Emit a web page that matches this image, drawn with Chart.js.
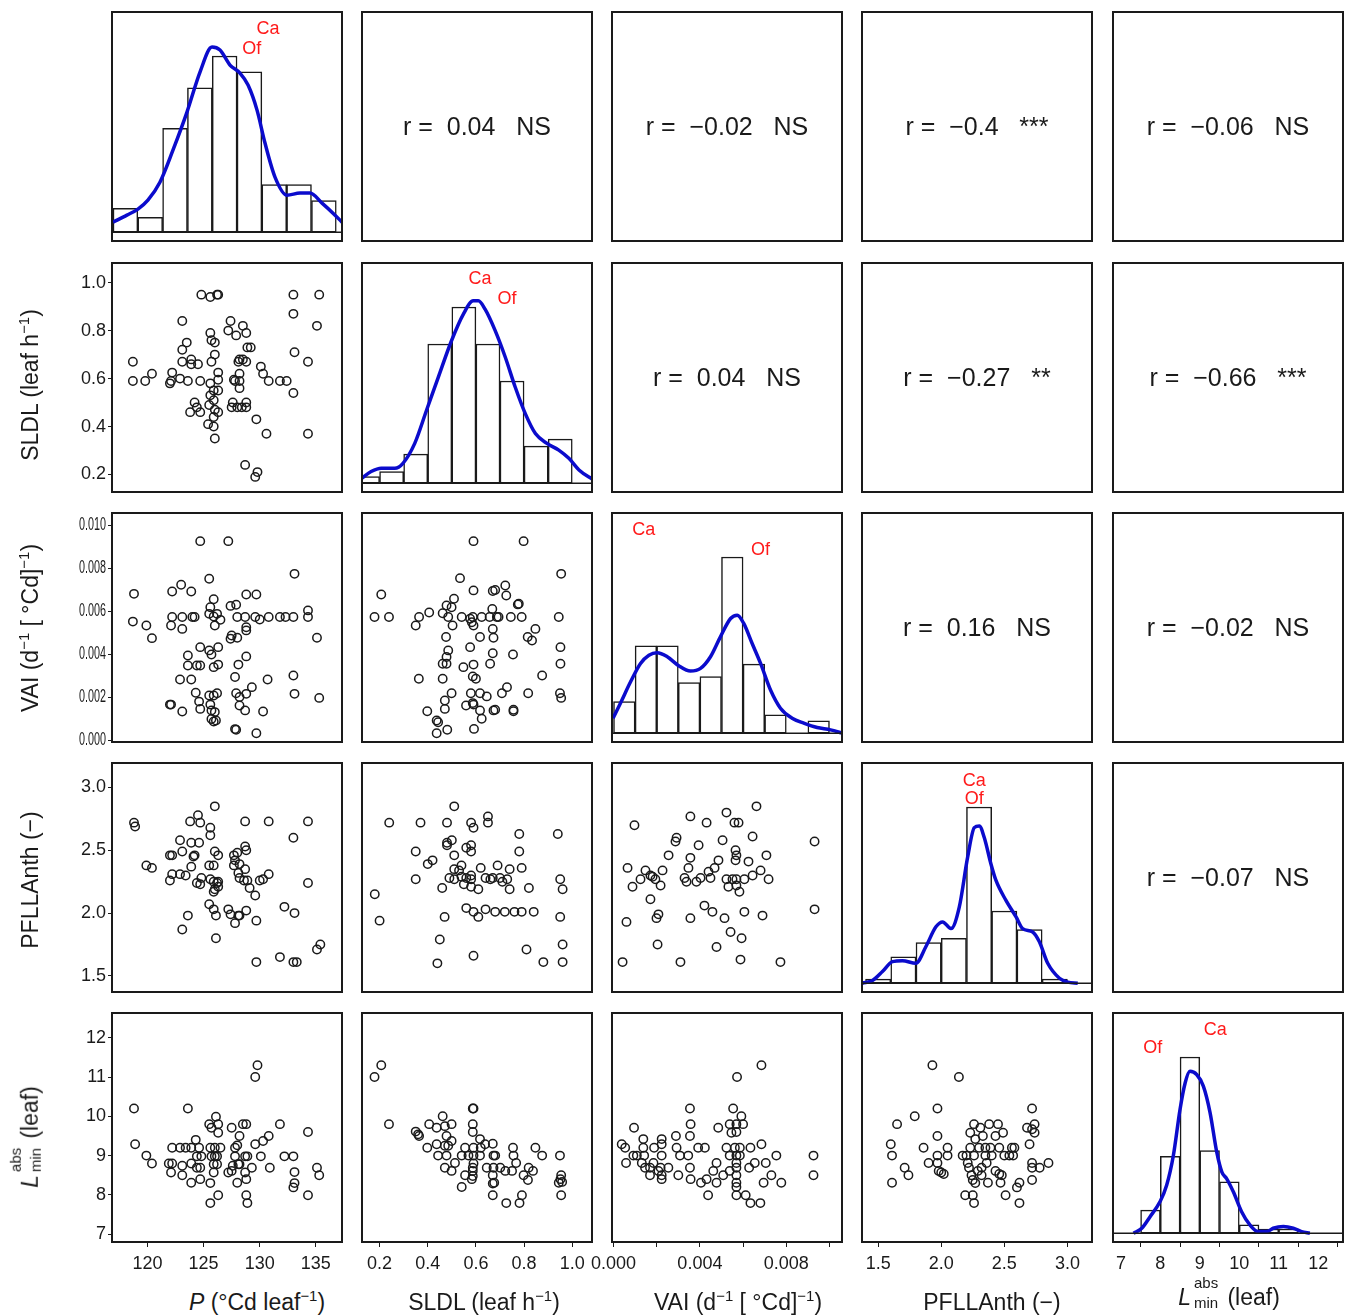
<!DOCTYPE html>
<html>
<head>
<meta charset="utf-8">
<script src="https://cdn.jsdelivr.net/npm/chart.js@4.4.1/dist/chart.umd.min.js"></script>
<style>
  body { margin: 0; background: #fff; font-family: "Liberation Sans", Arial, sans-serif; color: #1a1a1a; }
  #fig { position: relative; width: 1348px; height: 1315px; overflow: hidden; }
  .cell { position: absolute; }
  .rbox { position: absolute; box-sizing: border-box; border: 2px solid #1a1a1a; display: flex;
          align-items: center; justify-content: center; font-size: 25px; white-space: pre; }
  .ttl { position: absolute; font-size: 23px; white-space: nowrap; line-height: 1.15; }
  .ttl sup { font-size: 0.65em; vertical-align: 0.6em; line-height: 0; }
  .ss { position: relative; display: inline-block; width: 30px; height: 0; }
  .ss span { position: absolute; left: 3px; font-size: 15px; line-height: 15px; }
  .ss .sa { bottom: 15px; }
  .ss .sb { bottom: -5px; }
</style>
</head>
<body>
<div id="fig"></div>
<script>
// ---- tick values ----
const pTicks = [120, 125, 130, 135];
const sldlTicks = [0.2, 0.4, 0.6, 0.8, 1.0];
const vaiTicks = [0, 0.002, 0.004, 0.006, 0.008, 0.010];
const vaiBottomLabels = [0, 0.004, 0.008];
const pfTicks = [1.5, 2.0, 2.5, 3.0];
const lminTicks = [7, 8, 9, 10, 11, 12];

// ---- correlations (upper panels) ----
const corrPairs = [[0, 1], [0, 2], [0, 3], [0, 4], [1, 2], [1, 3], [1, 4], [2, 3], [2, 4], [3, 4]];
const corrValues = [0.04, -0.02, -0.4, -0.06, 0.04, -0.27, -0.66, 0.16, -0.02, -0.07];
const corrSig = ['NS', 'NS', '***', 'NS', 'NS', '**', '***', 'NS', 'NS', 'NS'];

// ---- histograms (bin edges + relative heights) ----
const histPEdges = [116.93, 119.14, 121.35, 123.56, 125.77, 127.98, 130.19, 132.40, 134.61, 136.82];
const histPHeights = [0.136, 0.085, 0.59, 0.82, 1.0, 0.91, 0.27, 0.27, 0.18];
const histSldlEdges = [0.1, 0.2, 0.3, 0.4, 0.5, 0.6, 0.7, 0.8, 0.9, 1.0];
const histSldlHeights = [0.038, 0.066, 0.165, 0.79, 1.0, 0.79, 0.58, 0.21, 0.25];
const histVaiEdges = [0, 0.001, 0.002, 0.003, 0.004, 0.005, 0.006, 0.007, 0.008, 0.009, 0.010];
const histVaiHeights = [0.179, 0.496, 0.496, 0.287, 0.321, 1.0, 0.392, 0.104, 0, 0.07];
const histPfEdges = [1.4, 1.6, 1.8, 2.0, 2.2, 2.4, 2.6, 2.8, 3.0];
const histPfHeights = [0.023, 0.150, 0.231, 0.254, 1.0, 0.41, 0.305, 0.023];
const histLminEdges = [7.5, 8.0, 8.5, 9.0, 9.5, 10.0, 10.5, 11.0, 11.5];
const histLminHeights = [0.131, 0.437, 1.0, 0.469, 0.291, 0.047, 0.024, 0.024];

// ---- density curves ----
const densP = [[116.93,0.057],[118.17,0.097],[119.15,0.131],[120.04,0.182],[121.11,0.284],[122.27,0.466],[123.52,0.682],[124.68,0.909],[125.75,1.051],[126.46,1.034],[127.35,0.949],[128.24,0.903],[128.96,0.835],[129.76,0.693],[130.47,0.506],[131.36,0.313],[132.43,0.210],[133.59,0.222],[134.48,0.222],[135.55,0.165],[136.53,0.108],[137.33,0.057]];
const densSldl = [[0.126,0.028],[0.165,0.066],[0.207,0.085],[0.263,0.085],[0.297,0.113],[0.346,0.226],[0.395,0.414],[0.444,0.602],[0.499,0.810],[0.548,0.960],[0.589,1.035],[0.610,1.035],[0.638,0.988],[0.680,0.866],[0.722,0.715],[0.763,0.546],[0.805,0.395],[0.847,0.282],[0.895,0.226],[0.944,0.188],[0.986,0.141],[1.028,0.075],[1.087,0.019]];
const densVai = [[-0.00002,0.085],[0.00032,0.170],[0.00079,0.292],[0.00125,0.396],[0.00164,0.443],[0.00202,0.457],[0.00249,0.434],[0.00302,0.383],[0.00356,0.353],[0.00403,0.368],[0.00449,0.434],[0.00495,0.547],[0.00542,0.651],[0.00573,0.670],[0.00603,0.623],[0.00642,0.509],[0.00681,0.396],[0.00727,0.245],[0.00773,0.142],[0.00827,0.085],[0.00881,0.057],[0.00943,0.032],[0.01005,0.019],[0.01059,0.0]];
const densPf = [[1.375,0.0],[1.455,0.015],[1.534,0.066],[1.613,0.122],[1.693,0.128],[1.799,0.113],[1.878,0.207],[1.958,0.320],[2.011,0.348],[2.077,0.310],[2.143,0.432],[2.209,0.714],[2.262,0.883],[2.302,0.893],[2.341,0.827],[2.394,0.677],[2.434,0.583],[2.513,0.470],[2.593,0.376],[2.645,0.310],[2.725,0.291],[2.778,0.235],[2.844,0.113],[2.937,0.028],[3.003,0.006],[3.082,0.0]];
const densLmin = [[7.32,0.0],[7.53,0.028],[7.74,0.094],[7.99,0.178],[8.16,0.272],[8.33,0.441],[8.50,0.704],[8.63,0.854],[8.75,0.919],[8.92,0.901],[9.09,0.835],[9.26,0.685],[9.43,0.460],[9.56,0.347],[9.68,0.310],[9.85,0.235],[10.06,0.122],[10.27,0.047],[10.48,0.009],[10.70,0.009],[10.86,0.028],[11.12,0.038],[11.37,0.028],[11.58,0.009],[11.79,0.0]];

// ---- scatter panels [x, y] ----
const pVsSldl = [[118.7,0.67],[118.7,0.59],[119.8,0.59],[120.4,0.62],[122.0,0.58],[122.1,0.59],[122.2,0.625],[122.9,0.60],[123.1,0.84],[123.1,0.72],[123.1,0.67],[123.5,0.75],[123.6,0.59],[123.9,0.68],[123.9,0.66],[124.5,0.66],[123.8,0.46],[124.2,0.50],[124.4,0.48],[124.7,0.59],[124.7,0.46],[124.8,0.95],[125.6,0.79],[125.7,0.67],[125.6,0.94],[126.2,0.95],[126.3,0.95],[125.7,0.76],[126.0,0.75],[126.0,0.70],[125.6,0.58],[125.6,0.53],[125.9,0.55],[126.3,0.625],[126.3,0.595],[126.3,0.55],[125.5,0.49],[125.4,0.41],[125.9,0.40],[126.0,0.35],[125.9,0.44],[126.0,0.47],[126.3,0.46],[125.9,0.51],[127.2,0.80],[127.4,0.84],[127.9,0.78],[128.5,0.82],[128.8,0.79],[128.1,0.67],[128.2,0.68],[128.5,0.68],[128.8,0.67],[128.9,0.73],[129.2,0.73],[127.7,0.595],[127.8,0.59],[128.2,0.59],[128.2,0.62],[128.2,0.56],[127.5,0.48],[127.6,0.50],[128.0,0.48],[128.4,0.48],[128.8,0.48],[128.8,0.50],[129.7,0.43],[130.6,0.37],[128.7,0.24],[129.6,0.19],[129.8,0.21],[130.1,0.65],[130.3,0.62],[130.8,0.59],[131.8,0.59],[132.4,0.59],[133.0,0.95],[133.0,0.87],[133.1,0.71],[133.0,0.54],[134.3,0.67],[134.3,0.37],[135.1,0.82],[135.3,0.95]];
const pVsVai = [[118.8,0.00682],[118.7,0.00553],[119.9,0.00535],[120.4,0.00476],[122.2,0.00693],[123.0,0.00724],[123.9,0.00693],[122.2,0.00574],[122.1,0.00535],[123.1,0.00574],[123.1,0.00519],[124.0,0.00574],[124.2,0.00574],[123.6,0.00395],[123.6,0.00349],[122.9,0.00284],[123.9,0.00284],[124.4,0.00349],[124.7,0.00349],[124.7,0.00434],[122.0,0.00167],[122.1,0.00167],[123.1,0.00135],[124.3,0.00222],[124.6,0.00181],[124.7,0.00147],[125.5,0.00752],[125.6,0.00620],[125.9,0.00657],[125.5,0.00589],[125.9,0.00577],[126.0,0.00535],[126.5,0.00561],[126.2,0.00589],[125.5,0.00419],[125.7,0.00400],[126.3,0.00434],[125.9,0.00341],[126.3,0.00353],[125.5,0.00209],[125.9,0.00209],[126.2,0.00220],[125.6,0.00167],[125.7,0.00140],[126.0,0.00132],[125.9,0.00088],[126.1,0.00093],[125.7,0.00100],[124.7,0.00927],[127.2,0.00927],[127.4,0.00626],[127.9,0.00631],[127.4,0.00473],[127.5,0.00488],[128.0,0.00478],[128.8,0.00679],[129.7,0.00679],[128.0,0.00574],[128.7,0.00574],[128.8,0.00527],[128.8,0.00512],[129.6,0.00574],[130.0,0.00563],[130.8,0.00574],[128.8,0.00391],[128.1,0.00353],[127.8,0.00295],[127.9,0.00220],[128.2,0.00202],[128.8,0.00217],[129.3,0.00248],[128.2,0.00163],[128.7,0.00140],[127.8,0.00053],[127.9,0.00050],[129.7,0.00034],[130.3,0.00135],[130.7,0.00284],[131.8,0.00574],[132.3,0.00574],[133.0,0.00574],[133.0,0.00302],[133.1,0.00217],[133.1,0.00775],[134.3,0.00605],[134.3,0.00574],[135.1,0.00478],[135.3,0.00198]];
const pVsPf = [[118.8,2.72],[118.9,2.69],[119.9,2.38],[120.4,2.36],[122.0,2.46],[122.2,2.46],[122.9,2.58],[123.1,2.49],[122.2,2.31],[122.0,2.26],[122.9,2.31],[123.4,2.30],[123.9,2.56],[124.6,2.56],[123.8,2.73],[124.5,2.78],[124.7,2.72],[124.1,2.45],[124.2,2.46],[123.9,2.37],[124.4,2.24],[124.7,2.23],[124.8,2.28],[123.1,1.87],[123.6,1.98],[125.6,2.68],[125.6,2.62],[126.0,2.85],[125.5,2.38],[125.9,2.38],[126.0,2.49],[126.3,2.46],[125.6,2.27],[125.9,2.25],[126.2,2.24],[126.3,2.21],[126.0,2.19],[125.9,2.17],[126.3,2.25],[125.5,2.07],[125.9,2.03],[126.1,1.98],[126.1,1.80],[127.2,2.03],[127.4,1.99],[127.8,1.92],[128.1,1.98],[128.2,1.98],[128.8,2.02],[127.7,2.46],[127.8,2.42],[128.0,2.48],[128.2,2.39],[128.1,2.32],[127.7,2.38],[128.7,2.53],[128.8,2.50],[128.7,2.35],[128.2,2.28],[128.6,2.26],[128.9,2.26],[129.1,2.20],[129.6,2.14],[128.7,2.73],[129.7,1.94],[129.7,1.61],[130.8,2.73],[130.0,2.26],[130.3,2.27],[130.8,2.31],[131.8,1.65],[132.2,2.05],[133.0,2.60],[133.1,2.00],[133.0,1.61],[133.3,1.61],[134.3,2.73],[134.3,2.24],[135.1,1.71],[135.4,1.75]];
const pVsLmin = [[118.8,10.2],[118.9,9.29],[119.9,9.0],[120.4,8.8],[121.9,8.8],[122.2,8.8],[122.1,8.57],[122.2,9.2],[122.9,9.2],[123.4,9.2],[123.9,9.2],[123.1,8.74],[123.1,8.5],[123.9,8.8],[123.9,8.31],[123.6,10.2],[124.3,9.4],[124.6,9.2],[124.4,8.69],[124.7,8.69],[124.7,8.4],[124.4,8.98],[124.8,8.98],[125.5,9.8],[125.7,9.71],[126.1,9.99],[126.3,9.8],[126.3,9.58],[125.6,9.2],[126.0,9.2],[126.5,9.2],[125.7,8.98],[126.0,8.98],[126.2,8.98],[125.9,8.78],[126.2,8.78],[125.9,8.57],[125.6,8.3],[125.6,7.79],[126.3,7.99],[127.5,9.71],[127.2,8.57],[127.5,8.61],[127.6,8.74],[127.8,9.2],[128.0,9.26],[128.2,9.5],[127.8,8.98],[128.1,8.78],[128.2,8.78],[128.0,8.31],[128.5,9.8],[128.8,9.8],[128.7,8.98],[128.9,8.98],[128.7,8.57],[128.8,8.4],[128.8,7.99],[128.9,7.79],[129.3,8.69],[129.6,9.29],[129.6,11.0],[129.8,11.3],[130.1,8.98],[130.3,9.37],[130.8,9.5],[130.9,8.69],[131.8,9.8],[132.2,8.98],[133.0,8.98],[133.1,8.58],[133.1,8.3],[133.0,8.19],[134.3,9.6],[134.3,7.99],[135.1,8.69],[135.3,8.5]];
const sldlVsVai = [[0.179,0.00574],[0.239,0.00574],[0.207,0.00679],[0.350,0.00535],[0.364,0.00574],[0.406,0.00595],[0.363,0.00287],[0.398,0.00136],[0.437,0.00093],[0.443,0.00085],[0.437,0.00034],[0.481,0.00050],[0.462,0.00592],[0.478,0.00628],[0.499,0.00620],[0.509,0.00659],[0.485,0.00574],[0.503,0.00535],[0.476,0.00481],[0.485,0.00419],[0.478,0.00388],[0.462,0.00357],[0.478,0.00357],[0.462,0.00287],[0.499,0.00220],[0.471,0.00186],[0.471,0.00147],[0.534,0.00755],[0.541,0.00574],[0.576,0.00566],[0.587,0.00574],[0.583,0.00550],[0.590,0.00535],[0.590,0.00927],[0.590,0.00698],[0.624,0.00574],[0.617,0.00481],[0.576,0.00434],[0.548,0.00341],[0.590,0.00353],[0.587,0.00298],[0.600,0.00287],[0.579,0.00220],[0.617,0.00220],[0.587,0.00174],[0.590,0.00167],[0.559,0.00163],[0.617,0.00140],[0.624,0.00101],[0.592,0.00054],[0.645,0.00205],[0.657,0.00574],[0.668,0.00612],[0.670,0.00695],[0.680,0.00700],[0.670,0.00519],[0.673,0.00478],[0.670,0.00406],[0.659,0.00357],[0.673,0.00140],[0.680,0.00143],[0.687,0.00574],[0.708,0.00220],[0.694,0.00574],[0.726,0.00674],[0.722,0.00721],[0.729,0.00248],[0.745,0.00574],[0.754,0.00400],[0.756,0.00136],[0.756,0.00143],[0.774,0.00633],[0.778,0.00636],[0.790,0.00574],[0.798,0.00927],[0.815,0.00481],[0.817,0.00220],[0.833,0.00465],[0.847,0.00519],[0.875,0.00302],[0.944,0.00574],[0.954,0.00775],[0.951,0.00434],[0.951,0.00357],[0.949,0.00220],[0.954,0.00198]];
const sldlVsPf = [[0.18,2.15],[0.20,1.94],[0.24,2.72],[0.35,2.49],[0.37,2.72],[0.40,2.39],[0.42,2.42],[0.44,1.60],[0.46,2.20],[0.45,1.79],[0.47,1.97],[0.48,2.72],[0.48,2.56],[0.49,2.28],[0.48,2.54],[0.50,2.58],[0.51,2.85],[0.51,2.46],[0.53,2.34],[0.54,2.38],[0.55,2.23],[0.56,2.04],[0.56,2.28],[0.58,2.72],[0.58,2.54],[0.58,2.49],[0.58,2.30],[0.58,2.27],[0.58,2.21],[0.59,2.68],[0.59,1.66],[0.59,2.01],[0.61,1.97],[0.62,2.36],[0.64,2.28],[0.64,2.03],[0.65,2.77],[0.65,2.72],[0.66,2.27],[0.67,2.28],[0.68,2.01],[0.69,2.38],[0.71,2.25],[0.72,2.01],[0.73,2.27],[0.74,2.19],[0.76,2.01],[0.78,2.63],[0.78,2.49],[0.79,2.01],[0.79,2.36],[0.81,1.71],[0.82,2.20],[0.84,2.01],[0.88,1.61],[0.94,2.63],[0.95,2.27],[0.96,2.19],[0.95,1.97],[0.96,1.75],[0.96,1.61],[0.51,2.27],[0.54,2.29],[0.61,2.19],[0.56,2.52],[0.70,2.28],[0.74,2.35],[0.35,2.27],[0.51,2.35]];
const sldlVsLmin = [[0.179,11.0],[0.207,11.3],[0.239,9.8],[0.350,9.61],[0.360,9.54],[0.364,9.5],[0.398,9.2],[0.406,9.8],[0.437,9.71],[0.443,9.0],[0.462,10.0],[0.471,9.75],[0.478,9.5],[0.499,9.8],[0.471,9.25],[0.485,9.25],[0.499,9.37],[0.437,9.29],[0.471,8.69],[0.478,9.0],[0.499,8.61],[0.513,8.81],[0.541,9.0],[0.555,9.2],[0.541,8.2],[0.555,8.5],[0.569,9.0],[0.587,10.2],[0.590,10.2],[0.587,9.8],[0.587,9.6],[0.590,9.2],[0.590,9.0],[0.590,8.8],[0.587,8.69],[0.587,8.61],[0.587,8.48],[0.583,8.4],[0.617,9.42],[0.620,9.2],[0.617,9.0],[0.638,9.29],[0.645,8.69],[0.670,9.3],[0.673,9.0],[0.680,9.0],[0.673,8.69],[0.670,8.5],[0.670,8.29],[0.676,8.31],[0.670,7.99],[0.701,8.69],[0.722,8.61],[0.726,7.79],[0.750,8.61],[0.754,9.2],[0.756,9.0],[0.767,8.81],[0.781,7.79],[0.791,7.99],[0.798,8.5],[0.819,8.69],[0.816,8.38],[0.837,8.61],[0.847,9.2],[0.875,9.0],[0.949,9.0],[0.954,8.5],[0.951,8.4],[0.944,8.31],[0.954,7.99],[0.958,8.33]];
const vaiVsPf = [[0.00042,1.61],[0.00060,1.93],[0.00097,2.70],[0.00065,2.36],[0.00088,2.21],[0.00125,2.27],[0.00148,2.34],[0.00171,2.30],[0.00194,2.27],[0.00181,2.29],[0.00199,1.96],[0.00208,1.99],[0.00204,1.75],[0.00227,2.34],[0.00218,2.22],[0.00255,2.46],[0.00287,2.57],[0.00292,2.60],[0.00310,1.61],[0.00329,2.28],[0.00347,2.36],[0.00356,2.44],[0.00356,1.96],[0.00356,2.77],[0.00384,2.25],[0.00394,2.54],[0.00421,2.06],[0.00431,2.72],[0.00449,2.28],[0.00458,2.01],[0.00477,1.73],[0.00486,2.42],[0.00505,2.58],[0.00514,1.96],[0.00523,2.80],[0.00532,2.21],[0.00542,1.85],[0.00551,2.27],[0.00560,2.72],[0.00565,2.50],[0.00565,2.42],[0.00569,2.46],[0.00569,2.27],[0.00569,2.22],[0.00579,2.72],[0.00583,2.17],[0.00588,1.63],[0.00593,1.80],[0.00606,2.01],[0.00625,2.41],[0.00644,2.61],[0.00662,2.85],[0.00681,2.34],[0.00690,1.98],[0.00708,2.46],[0.00718,2.27],[0.00773,1.61],[0.00931,2.57],[0.00931,2.03],[0.00403,2.28],[0.00468,2.36],[0.00171,2.11],[0.00338,2.25],[0.00440,2.33],[0.00523,2.27],[0.00606,2.27],[0.00644,2.30]];
const vaiVsLmin = [[0.00038,9.29],[0.00054,9.2],[0.00058,8.81],[0.00092,9.0],[0.00095,9.71],[0.00108,9.0],[0.00138,9.42],[0.00138,9.2],[0.00142,9.0],[0.00131,8.81],[0.00146,8.69],[0.00169,8.69],[0.00169,8.5],[0.00188,9.2],[0.00185,8.81],[0.00208,8.61],[0.00218,8.69],[0.00223,8.5],[0.00223,8.4],[0.00223,9.42],[0.00223,9.29],[0.00223,9.0],[0.00254,8.69],[0.00289,9.5],[0.00292,9.2],[0.00300,8.5],[0.00308,9.0],[0.00346,9.0],[0.00354,10.2],[0.00357,9.8],[0.00354,9.5],[0.00354,8.69],[0.00357,8.4],[0.00392,9.2],[0.00423,9.2],[0.00405,8.31],[0.00438,7.99],[0.00431,8.4],[0.00462,8.61],[0.00477,8.81],[0.00477,8.31],[0.00485,9.71],[0.00508,8.5],[0.00523,9.2],[0.00538,9.8],[0.00546,9.58],[0.00554,10.2],[0.00538,9.0],[0.00538,8.61],[0.00562,9.2],[0.00569,9.8],[0.00569,9.6],[0.00569,9.0],[0.00569,8.81],[0.00569,8.69],[0.00569,8.5],[0.00569,8.31],[0.00569,8.2],[0.00569,7.99],[0.00572,11.0],[0.00592,10.0],[0.00600,9.8],[0.00585,9.2],[0.00585,9.0],[0.00612,7.99],[0.00628,8.69],[0.00634,7.79],[0.00654,8.81],[0.00634,9.2],[0.00680,7.79],[0.00685,11.3],[0.00685,9.29],[0.00695,8.31],[0.00705,8.81],[0.00731,8.5],[0.00754,9.0],[0.00777,8.31],[0.00926,9.0],[0.00926,8.5]];
const pfVsLmin = [[1.60,9.29],[1.61,9.0],[1.61,8.31],[1.65,9.8],[1.71,8.69],[1.74,8.5],[1.79,10.0],[1.86,9.2],[1.90,8.81],[1.93,11.3],[1.97,10.2],[1.97,9.5],[1.97,9.0],[1.97,8.81],[1.98,8.61],[2.00,8.57],[2.02,8.53],[2.05,9.2],[2.05,9.0],[2.14,11.0],[2.17,9.0],[2.19,7.99],[2.20,9.0],[2.21,8.81],[2.22,8.69],[2.23,9.2],[2.24,8.5],[2.23,9.58],[2.25,7.99],[2.26,7.79],[2.26,9.8],[2.27,9.42],[2.26,9.0],[2.25,8.38],[2.27,8.3],[2.29,8.61],[2.30,9.2],[2.31,9.71],[2.32,8.69],[2.32,8.5],[2.33,9.5],[2.35,9.2],[2.35,9.0],[2.36,8.81],[2.37,8.31],[2.38,9.8],[2.39,9.2],[2.40,9.0],[2.43,9.5],[2.43,8.61],[2.45,9.8],[2.46,9.2],[2.46,8.53],[2.47,8.31],[2.49,9.58],[2.50,9.0],[2.48,8.5],[2.51,7.99],[2.54,9.0],[2.56,9.2],[2.58,9.2],[2.57,9.0],[2.60,8.19],[2.62,8.31],[2.62,7.79],[2.70,9.29],[2.68,9.71],[2.72,10.2],[2.72,9.67],[2.74,9.8],[2.74,9.58],[2.72,8.81],[2.72,8.38],[2.72,8.69],[2.78,8.69],[2.85,8.81]];

// ---- layout / styling config ----
const FONT = '"Liberation Sans", Arial, sans-serif';
const PX = [112, 362, 612, 862, 1113];
const PY = [12, 263, 513, 763, 1013];
const PW = 230, PH = 229;
const keys = ['P', 'SLDL', 'VAI', 'PF', 'L'];
const range = { P: [116.84, 137.33], SLDL: [0.127, 1.082], VAI: [-0.00007, 0.01058], PF: [1.372, 3.195], L: [6.80, 12.63] };
const ticksFor = { P: pTicks, SLDL: sldlTicks, VAI: vaiTicks, PF: pfTicks, L: lminTicks };
const hists = {
  P: [histPEdges, histPHeights, densP], SLDL: [histSldlEdges, histSldlHeights, densSldl],
  VAI: [histVaiEdges, histVaiHeights, densVai], PF: [histPfEdges, histPfHeights, densPf],
  L: [histLminEdges, histLminHeights, densLmin]
};
const scatters = {
  '1,0': pVsSldl, '2,0': pVsVai, '3,0': pVsPf, '4,0': pVsLmin,
  '2,1': sldlVsVai, '3,1': sldlVsPf, '4,1': sldlVsLmin,
  '3,2': vaiVsPf, '4,2': vaiVsLmin, '4,3': pfVsLmin
};
// red group labels on diagonal panels (data coordinates)
const notes = {
  P: [['Ca', 130.74, 1.153], ['Of', 129.3, 1.04]],
  SLDL: [['Ca', 0.617, 1.158], ['Of', 0.729, 1.045]],
  VAI: [['Ca', 0.0014, 1.155], ['Of', 0.00681, 1.041]],
  PF: [['Ca', 2.262, 1.15], ['Of', 2.262, 1.043]],
  L: [['Ca', 9.39, 1.154], ['Of', 7.81, 1.05]]
};
const titles = [
  '<i>P</i> (°Cd leaf<sup>−1</sup>)',
  'SLDL (leaf h<sup>−1</sup>)',
  'VAI (d<sup>−1</sup> [ °Cd]<sup>−1</sup>)',
  'PFLLAnth (−)',
  '<i>L</i><span class="ss"><span class="sa">abs</span><span class="sb">min</span></span> (leaf)'
];
const leftTitleY = [null, 385, 628, 880, 1137];
const bottomTitleX = [257, 484, 738, 992, 1229];

const fig = document.getElementById('fig');

function fmt(key, dir, v) {
  if (key === 'SLDL' || key === 'PF') return v.toFixed(1);
  if (key === 'VAI') {
    if (dir === 'x' && !vaiBottomLabels.some(b => Math.abs(b - v) < 1e-9)) return '';
    return v.toFixed(3);
  }
  return String(v);
}

function axis(key, dir, show) {
  const tickLen = dir === 'x' ? 5 : 4, pad = dir === 'x' ? 6 : 2;
  return {
    type: 'linear', min: range[key][0], max: range[key][1], display: show, offset: false,
    afterBuildTicks: ax => { ax.ticks = ticksFor[key].map(v => ({ value: v })); },
    afterFit: ax => {
      if (dir === 'x') ax.height = show ? 45 : 0; else ax.width = show ? 75 : 0;
      ax.paddingLeft = 0; ax.paddingRight = 0; ax.paddingTop = 0; ax.paddingBottom = 0;
      // the VAI labels on the left axis are set narrower in the original figure
      if (dir === 'y' && key === 'VAI' && show && !ax._narrow) {
        const draw = ax.drawLabels.bind(ax);
        ax.drawLabels = function (area) {
          const ctx = this.ctx, x0 = this.right - tickLen - pad;
          ctx.save(); ctx.translate(x0, 0); ctx.scale(0.6, 1); ctx.translate(-x0, 0);
          draw(area);
          ctx.restore();
        };
        ax._narrow = true;
      }
    },
    grid: { display: true, drawOnChartArea: false, drawTicks: true, tickLength: tickLen, color: '#1a1a1a', lineWidth: 1 },
    border: { display: false },
    ticks: {
      autoSkip: false, maxRotation: 0, minRotation: 0, padding: pad,
      color: '#1a1a1a', font: { family: FONT, size: 18 },
      callback: v => fmt(key, dir, v)
    }
  };
}

const boxPlugin = {
  id: 'panelBox',
  afterDatasetsDraw(chart, args, opts) {
    const a = chart.chartArea, ctx = chart.ctx;
    ctx.save();
    if (opts.baseline) {
      const y0 = chart.scales.y.getPixelForValue(0);
      ctx.strokeStyle = '#1a1a1a'; ctx.lineWidth = 1.5;
      ctx.beginPath(); ctx.moveTo(a.left, y0); ctx.lineTo(a.right, y0); ctx.stroke();
    }
    if (opts.notes) {
      ctx.fillStyle = '#ff1a1a'; ctx.font = '18px ' + FONT;
      ctx.textAlign = 'center'; ctx.textBaseline = 'middle';
      opts.notes.forEach(([t, x, y]) => {
        ctx.fillText(t, chart.scales.x.getPixelForValue(x), chart.scales.y.getPixelForValue(y));
      });
    }
    ctx.strokeStyle = '#1a1a1a'; ctx.lineWidth = 2;
    ctx.strokeRect(a.left, a.top, a.right - a.left, a.bottom - a.top);
    ctx.restore();
  }
};

function makePanel(r, c, type, datasets, yAxis, extra) {
  const showY = c === 0 && r > 0;
  const showX = r === 4;
  const padL = c === 0 ? 75 : 28, padR = 28, padT = 10, padB = showX ? 45 : 10;
  const div = document.createElement('div');
  div.className = 'cell';
  div.style.left = (PX[c] - padL) + 'px';
  div.style.top = (PY[r] - padT) + 'px';
  div.style.width = (PW + padL + padR) + 'px';
  div.style.height = (PH + padT + padB) + 'px';
  const cv = document.createElement('canvas');
  div.appendChild(cv);
  fig.appendChild(div);
  new Chart(cv, {
    type,
    data: { datasets },
    options: {
      responsive: true, maintainAspectRatio: false, animation: false,
      layout: { padding: { left: showY ? 0 : padL, right: padR, top: padT, bottom: showX ? 0 : padB } },
      plugins: { legend: { display: false }, tooltip: { enabled: false }, panelBox: extra || {} },
      scales: { x: axis(keys[c], 'x', showX), y: yAxis || axis(keys[r], 'y', showY) }
    },
    plugins: [boxPlugin]
  });
}

for (let r = 0; r < 5; r++) {
  for (let c = 0; c < 5; c++) {
    if (r === c) {
      const [edges, heights, dens] = hists[keys[c]];
      const bars = heights.map((h, i) => ({ x: (edges[i] + edges[i + 1]) / 2, y: h }));
      makePanel(r, c, 'bar', [
        { type: 'line', data: dens.map(([x, y]) => ({ x, y })), borderColor: '#0b0bcc', borderWidth: 3.5,
          pointRadius: 0, tension: 0.4, cubicInterpolationMode: 'monotone', fill: false, order: 1, clip: 0 },
        { type: 'bar', data: bars, backgroundColor: '#ffffff', borderColor: '#1a1a1a', borderWidth: 1.5,
          borderSkipped: false, barPercentage: 1, categoryPercentage: 1, order: 2, clip: 0 }
      ], { type: 'linear', min: -0.05, max: 1.25, display: false },
      { baseline: true, notes: notes[keys[c]] });
    } else if (r > c) {
      const pts = scatters[r + ',' + c];
      makePanel(r, c, 'scatter', [{
        data: pts.map(([x, y]) => ({ x, y })), pointStyle: 'circle', pointRadius: 4.2,
        pointBorderWidth: 1.5, pointBorderColor: '#1a1a1a', pointBackgroundColor: 'rgba(0,0,0,0)', clip: 0
      }]);
    }
  }
}

// correlation text panels
corrPairs.forEach(([r, c], i) => {
  const d = document.createElement('div');
  d.className = 'rbox';
  d.style.left = (PX[c] - 1) + 'px';
  d.style.top = (PY[r] - 1) + 'px';
  d.style.width = (PW + 2) + 'px';
  d.style.height = (PH + 2) + 'px';
  d.textContent = 'r =  ' + String(corrValues[i]).replace('-', '−') + '   ' + corrSig[i];
  fig.appendChild(d);
});

// axis titles
for (let r = 1; r < 5; r++) {
  const t = document.createElement('div');
  t.className = 'ttl';
  t.innerHTML = titles[r];
  t.style.left = '30px';
  t.style.top = leftTitleY[r] + 'px';
  t.style.transform = 'translate(-50%, -50%) rotate(-90deg)';
  fig.appendChild(t);
}
for (let c = 0; c < 5; c++) {
  const t = document.createElement('div');
  t.className = 'ttl';
  t.innerHTML = titles[c];
  t.style.left = bottomTitleX[c] + 'px';
  t.style.top = (c === 4 ? 1284 : 1289) + 'px';
  t.style.transform = 'translateX(-50%)';
  fig.appendChild(t);
}
</script>
</body>
</html>
